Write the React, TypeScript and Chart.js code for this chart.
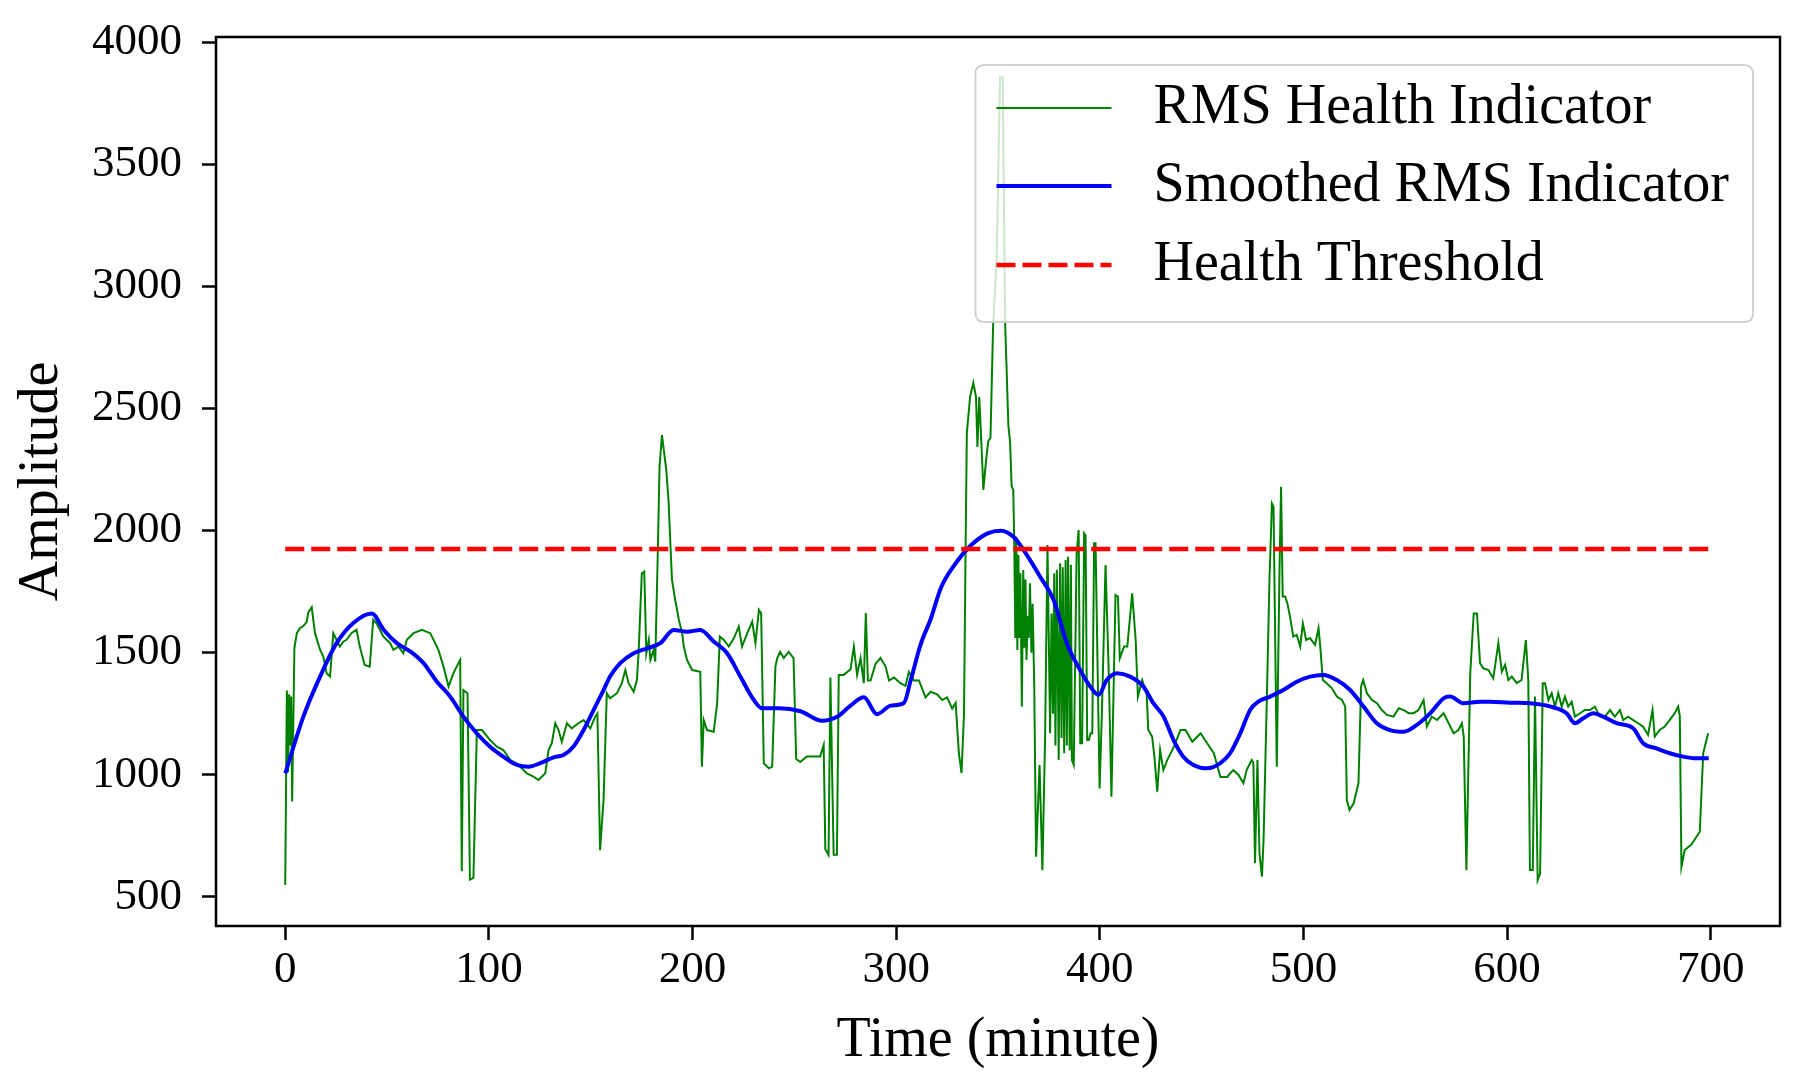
import React, { useEffect, useRef } from "react";
import { Chart, registerables } from "chart.js";

Chart.register(...registerables);

// Time (minute) / amplitude pairs
const rmsPoints: [number, number][] = [
  [0,548],[0.8,1345],[1.4,1010],[1.9,1330],[2.4,1120],[2.9,1320],[3.4,890],[4.5,1520],[5.7,1580],[7.2,1600],[9,1610],[10.5,1625],[11.3,1665],[13,1686],[14.6,1580],[17.1,1512],[18.7,1484],[20.3,1416],[22,1402],[23.6,1580],[25.2,1553],[26.8,1525],[28.5,1545],[30.1,1553],[32.5,1580],[35,1594],[36.6,1525],[39,1450],[41.5,1443],[43.2,1635],[44.8,1621],[48.2,1566],[51.5,1539],[53.1,1512],[55.6,1525],[58,1498],[59.7,1553],[63,1580],[67.1,1594],[71.2,1580],[73.6,1539],[75.2,1512],[77.7,1443],[80.2,1361],[82.6,1416],[84.2,1443],[85.9,1471],[86.7,604],[87.5,1347],[89.5,1333],[90.7,570],[92.4,577],[94.1,1183],[96.6,1183],[100.6,1142],[103.9,1115],[107.1,1101],[110.5,1060],[113.8,1046],[118.7,1005],
  [121.9,992],[124.4,978],[127.7,1006],[129.3,1101],[130.9,1129],[132.6,1211],[134.2,1183],[135.8,1135],[138.3,1211],[140.7,1190],[144,1211],[146.5,1224],[149.8,1190],[152.2,1238],[153.3,1251],[154.6,691],[156.3,896],[157.9,1334],[159.5,1313],[162.9,1334],[165.3,1375],[167,1429],[168.6,1375],[171.1,1340],[172.7,1388],[173.5,1498],[175.1,1825],[176.3,1832],[177.3,1498],[178.5,1552],[179.3,1470],[180.9,1511],[181.7,1463],[182.9,1893],[183.8,2262],[185,2392],[186.1,2317],[187.1,2249],[188.2,2126],[189.9,1798],[191.5,1716],[193.3,1634],[194.9,1580],[195.7,1525],[197.3,1470],[199.8,1429],[203.8,1422],[204.6,1033],[205.5,1224],[207.1,1183],[210.4,1176],[212.1,1293],[213.4,1566],[215.4,1552],[217.8,1525],[220.3,1559],[222.7,1607],[224.3,1525],[226.9,1580],[229.3,1627],[230.9,1539],[232.6,1675],[233.7,1661],[235,1047],[237.5,1026],[239.1,1033],[240.7,1443],
  [241.6,1478],[243,1503],[244.8,1478],[247.2,1503],[249.6,1478],[250.9,1064],[252.9,1052],[256.1,1075],[262.7,1075],[264.4,1121],[265.2,695],[266.8,672],[267.7,1398],[269.3,672],[270.9,672],[271.8,1409],[274.2,1409],[277.6,1432],[279.2,1525],[280.8,1409],[282.5,1478],[284.1,1375],[285.1,1663],[286.1,1386],[287.4,1386],[289.9,1455],[292.3,1478],[294.8,1443],[296.5,1386],[298.9,1398],[302.1,1375],[304.6,1364],[306.2,1421],[308.7,1386],[311.2,1386],[314.4,1317],[316.9,1340],[320.1,1329],[322.6,1306],[325,1317],[327.5,1271],[329.2,1294],[330.8,1087],[332.1,1007],[333.3,1248],[334.1,1939],
  [334.7,2401],[336.3,2548],[337.9,2606],[339.2,2548],[339.9,2343],[340.8,2548],[342,2329],[342.8,2167],[344.1,2284],[345.2,2367],[346.3,2381],[347.6,2840],[349.4,3133],[351,3858],[352.3,3858],[353.5,2852],[355.1,2430],[355.9,2367],[356.7,2182],[357.5,2167],
  [358,1940],[358.5,1560],[359,1975],[359.5,1511],[360,1900],[360.5,1560],[361,1825],[361.7,1279],[362.4,1839],[363,1520],[363.5,1800],[364,1470],[364.6,1650],[365.1,1560],[365.7,1784],[366.4,1500],[367,1700],[367.8,1361],
  [368.7,664],[370.4,1040],[371.8,609],[373.1,1142],[374.3,1941],[375.6,1170],[376.3,1661],[377,1250],[377.6,1825],[378.2,1120],[378.9,1840],[379.8,1060],[380.5,1866],[381.2,1150],[381.8,1850],[382.5,1088],[383.2,1880],[383.8,1120],[384.4,1893],[385.2,1100],[385.8,1860],[386.3,1060],[387.2,1040],[388.6,1900],[389.6,2003],[390.4,1129],[391.3,1129],[392.3,1989],[393,1980],[393.8,1142],[394.6,1142],[395.5,1170],[396.3,1170],[397.2,1948],[397.9,1948],[399.9,944],[401.1,1279],[402.8,1859],[404.4,1416],[405.7,910],[407.7,1736],[408.9,1730],[409.8,1477],[411.9,1525],[413.5,1525],[415.9,1743],[417.6,1552],[418.7,1320],[420.8,1388],[423,1333],[423.8,1183],[425.7,1156],[426.8,1074],[428.2,930],[429.6,1101],[431.2,1019],[433.1,1060],[436.4,1115],[439.6,1183],[442.1,1183],[445.4,1135],[449.5,1170],[452.7,1129],[456,1088],[459.2,991],[462.6,991],
  [464,1006],[465.6,1019],[468.1,999],[470.5,965],[472.1,1019],[474.6,1060],[475.4,1050],[476.2,637],[477.4,1060],[478.4,678],[479.6,582],[480.4,733],[482,1306],[483.3,1798],[484.5,2112],[485.3,2098],[486.9,1033],[488.2,1825],[489,2180],[489.8,1730],[491,1730],[492.1,1702],[493.4,1648],[495,1566],[496.7,1573],[498.4,1525],[499.7,1620],[501.3,1552],[503.2,1560],[505.7,1532],[507.4,1600],[508.2,1530],[509.5,1388],[511.4,1375],[514,1354],[516.4,1320],[518.9,1306],[520.5,1279],[521.3,896],[522.6,855],[524.6,882],[527,965],[528.3,1361],[529.3,1388],[531.2,1333],[533.7,1306],[536.1,1293],[538.5,1265],[541,1245],[544.2,1238],[546.8,1272],[549.2,1265],[551.6,1252],[554.1,1252],[556.5,1265],[559,1306],[560.6,1197],[563,1238],[565.6,1224],[568.8,1252],[571.3,1211],[573.7,1170],[576.1,1183],[577.8,1211],[578.7,1156],[580,609],[581.9,1416],[583.6,1661],
  [585.2,1661],[586.7,1457],[588.3,1436],[590.8,1429],[593.2,1395],[595.7,1539],[597.4,1422],[599,1450],[600.6,1388],[602.3,1402],[604.7,1375],[607.1,1388],[609.2,1552],[610.4,1388],[611.2,609],[612.6,609],[613.7,1320],[615,568],[616.2,595],[617.5,1375],[618.6,1375],[620.3,1306],[621.9,1334],[623.5,1279],[625.1,1334],[626.8,1279],[628.4,1320],[630,1279],[631.7,1299],[633.3,1238],[635.8,1252],[638.2,1265],[640.7,1265],[643.1,1279],[645.6,1238],[648.1,1238],[650.5,1265],[652.9,1238],[655.4,1265],[657,1224],[659.4,1238],[661.9,1224],[664.4,1211],[666.8,1197],[669.2,1163],[671.4,1265],[672.5,1156],[674.9,1183],[677.4,1197],[679.8,1224],[682.3,1252],[684,1279],[684.8,1238],[685.6,623],[687.2,691],[690.5,714],[694.6,766],[696.3,1088],[698.7,1170],
];

const smoothPoints: [number, number][] = [
  [0,1005],[8.9,1238],[17.1,1402],[25.2,1539],[33.3,1621],[42.5,1661],[48.3,1594],[54.8,1539],[61.4,1505],[67.9,1457],[74.4,1382],[81,1320],[87.5,1238],[94,1170],[100.6,1115],[107.1,1074],[113.8,1040],[119.5,1033],[125.2,1047],[131.8,1071],[136.6,1081],[141.5,1115],[146.5,1183],[151.4,1265],[156.3,1347],[159.5,1402],[164.5,1457],[171.1,1498],[177.7,1518],[184.2,1539],[190.7,1593],[197.3,1586],[203.8,1593],[210.4,1546],[217,1498],[223.5,1402],[230.1,1306],[234.2,1272],[242.4,1272],[253,1260],[263.6,1221],[271,1237],[277.6,1283],[284.1,1317],[290.6,1248],[297.3,1283],[303.8,1294],[307.1,1386],[312.1,1536],[317,1639],[322,1766],[328.5,1858],[336.6,1939],[344.9,1989],[351.4,2000],[357.6,1975],[364.2,1900],[370.7,1811],[377.3,1716],[383.8,1539],[390.3,1429],[395.3,1361],[399.4,1327],[403.4,1388],[408.3,1416],[414.9,1402],[421.4,1361],[426.3,1293],[431.3,1238],[436.2,1142],[441,1074],[446,1040],[452.5,1026],[459,1046],[464,1088],[469,1170],[473.8,1265],[477.8,1299],[483.6,1320],[490.1,1347],[496.7,1381],[503.2,1402],[509.8,1409],[516.4,1388],[522.9,1347],[529.5,1279],[536,1211],[542.5,1183],[549.2,1176],[555.7,1204],[562.3,1252],[568.8,1313],[572,1320],[578.5,1293],[586.8,1299],[591.6,1299],[601.4,1295],[611.2,1293],[617.8,1286],[624.3,1272],[629.2,1252],[633.3,1211],[637.4,1231],[642.3,1252],[647.2,1238],[653.8,1211],[661.9,1190],[666.8,1129],[673.3,1108],[679.9,1088],[686.4,1074],[692.9,1067],[699,1067],
];

const thresholdValue = 1925;
const thresholdSpan: number[] = [0, 699];

const xTicks: number[] = [0, 100, 200, 300, 400, 500, 600, 700];
const yTicks: number[] = [500, 1000, 1500, 2000, 2500, 3000, 3500, 4000];

const seriesLabels: string[] = ["RMS Health Indicator", "Smoothed RMS Indicator", "Health Threshold"];

const SERIF = "'Liberation Serif', 'Times New Roman', Times, serif";

const framePlugin = {
  id: "frame",
  afterDatasetsDraw(chart: any) {
    const { ctx, chartArea } = chart;
    ctx.save();
    ctx.strokeStyle = "#000";
    ctx.lineWidth = 2.5;
    ctx.strokeRect(chartArea.left, chartArea.top, chartArea.right - chartArea.left, chartArea.bottom - chartArea.top);
    ctx.restore();
  },
};

const legendPlugin = {
  id: "boxLegend",
  afterDraw(chart: any) {
    const { ctx, chartArea } = chart;
    const ds = chart.data.datasets;
    ctx.save();
    ctx.font = `56px ${SERIF}`;
    let maxW = 0;
    ds.forEach((d: any) => { maxW = Math.max(maxW, ctx.measureText(d.label).width); });
    const textOffset = 178;
    const w = textOffset + maxW + 24;
    const h = 257;
    const right = chartArea.right - 27;
    const left = right - w;
    const top = chartArea.top + 28;
    const r = 9;
    ctx.beginPath();
    ctx.moveTo(left + r, top);
    ctx.lineTo(left + w - r, top);
    ctx.quadraticCurveTo(left + w, top, left + w, top + r);
    ctx.lineTo(left + w, top + h - r);
    ctx.quadraticCurveTo(left + w, top + h, left + w - r, top + h);
    ctx.lineTo(left + r, top + h);
    ctx.quadraticCurveTo(left, top + h, left, top + h - r);
    ctx.lineTo(left, top + r);
    ctx.quadraticCurveTo(left, top, left + r, top);
    ctx.closePath();
    ctx.fillStyle = "rgba(255,255,255,0.8)";
    ctx.fill();
    ctx.strokeStyle = "rgba(204,204,204,0.9)";
    ctx.lineWidth = 2;
    ctx.stroke();
    const rows = [top + 43, top + 121, top + 200];
    ds.forEach((d: any, i: number) => {
      const y = rows[i];
      ctx.beginPath();
      ctx.strokeStyle = d.borderColor;
      ctx.lineWidth = d.borderWidth;
      ctx.setLineDash(d.borderDash || []);
      ctx.moveTo(left + 21, y);
      ctx.lineTo(left + 136, y);
      ctx.stroke();
      ctx.setLineDash([]);
      ctx.fillStyle = "#000";
      ctx.textAlign = "left";
      ctx.textBaseline = "middle";
      ctx.fillText(d.label, left + textOffset, y);
    });
    ctx.restore();
  },
};

export default function App() {
  const canvasRef = useRef<HTMLCanvasElement | null>(null);

  useEffect(() => {
    const canvas = canvasRef.current;
    if (!canvas) return;
    const chart = new Chart(canvas, {
      type: "line",
      data: {
        datasets: [
          {
            label: seriesLabels[0],
            data: rmsPoints.map(([x, y]) => ({ x, y })),
            borderColor: "#008000",
            borderWidth: 2,
            pointRadius: 0,
            tension: 0,
            order: 3,
          },
          {
            label: seriesLabels[1],
            data: smoothPoints.map(([x, y]) => ({ x, y })),
            borderColor: "#0000ff",
            borderWidth: 4,
            pointRadius: 0,
            cubicInterpolationMode: "monotone",
            order: 2,
          },
          {
            label: seriesLabels[2],
            data: thresholdSpan.map((x) => ({ x, y: thresholdValue })),
            borderColor: "#ff0000",
            borderWidth: 4.5,
            borderDash: [19, 7],
            pointRadius: 0,
            order: 1,
          },
        ],
      },
      options: {
        responsive: false,
        animation: false,
        devicePixelRatio: 1,
        layout: { padding: { top: 37, right: 21, left: 0, bottom: 0 } },
        plugins: { legend: { display: false }, tooltip: { enabled: false } },
        scales: {
          x: {
            type: "linear",
            min: -34,
            max: 734,
            afterBuildTicks: (s: any) => { s.ticks = xTicks.map((v) => ({ value: v })); },
            afterFit: (s: any) => { s.height = 162; s.paddingLeft = 0; s.paddingRight = 0; },
            ticks: {
              callback: (v: any) => String(v),
              font: { family: SERIF, size: 45 },
              color: "#000",
              padding: 3,
              maxRotation: 0,
              autoSkip: false,
            },
            grid: { drawOnChartArea: false, drawTicks: true, tickLength: 14, tickWidth: 2.5, tickColor: "#000" },
            border: { display: false },
            title: {
              display: true,
              text: "Time (minute)",
              font: { family: SERIF, size: 56 },
              color: "#000",
              padding: { top: 0, bottom: 13 },
            },
          },
          y: {
            type: "linear",
            min: 380,
            max: 4023,
            afterBuildTicks: (s: any) => { s.ticks = yTicks.map((v) => ({ value: v })); },
            afterFit: (s: any) => { s.width = 216; s.paddingTop = 0; s.paddingBottom = 0; },
            ticks: {
              callback: (v: any) => String(v),
              font: { family: SERIF, size: 45 },
              color: "#000",
              padding: 20,
              autoSkip: false,
            },
            grid: { drawOnChartArea: false, drawTicks: true, tickLength: 14, tickWidth: 2.5, tickColor: "#000" },
            border: { display: false },
            title: {
              display: true,
              text: "Amplitude",
              font: { family: SERIF, size: 56 },
              color: "#000",
              padding: { top: 9, bottom: 0 },
            },
          },
        },
      },
      plugins: [framePlugin, legendPlugin],
    } as any);
    return () => chart.destroy();
  }, []);

  return (
    <div style={{ position: "absolute", left: 0, top: 0, width: 1801, height: 1088, background: "#fff" }}>
      <canvas ref={canvasRef} width={1801} height={1088} style={{ display: "block", width: 1801, height: 1088 }} />
    </div>
  );
}
